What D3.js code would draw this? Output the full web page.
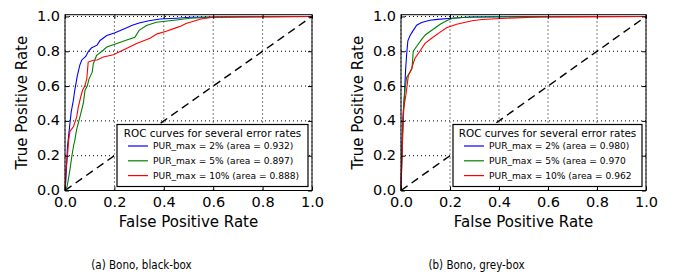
<!DOCTYPE html>
<html>
<head>
<meta charset="utf-8">
<script src="https://cdn.jsdelivr.net/npm/d3@7"></script>
<style>
  body { margin: 0; background: #fff; }
  svg { display: block; font-family: "DejaVu Sans", sans-serif; }
  .grid line { stroke: #000; stroke-width: 1; stroke-dasharray: 1,3; }
  .axis path { display: none; }
  .axis line { stroke: #000; }
  .axis text { font-size: 14.5px; fill: #000; font-family: "DejaVu Sans", sans-serif; }
</style>
</head>
<body>
<div id="chart"></div>
<script>
// ROC points: [false positive rate, true positive rate]
const seriesNames = ['PUR_max = 2%', 'PUR_max = 5%', 'PUR_max = 10%'];
const seriesColors = ['#0000ff', '#008000', '#ff0000'];
const ticks = [0.0, 0.2, 0.4, 0.6, 0.8, 1.0];

const blackBox = {
  caption: '(a) Bono, black-box',
  areas: ['(area = 0.932)', '(area = 0.897)', '(area = 0.888)'],
  blue: [[0,0],[0.003,0.05],[0.01,0.25],[0.018,0.36],[0.025,0.45],[0.034,0.52],[0.04,0.58],[0.05,0.66],
    [0.06,0.72],[0.068,0.75],[0.084,0.77],[0.095,0.80],[0.108,0.82],[0.13,0.835],[0.142,0.862],
    [0.169,0.89],[0.2,0.905],[0.25,0.935],[0.27,0.948],[0.30,0.962],[0.34,0.975],[0.385,0.985],
    [0.45,0.99],[0.506,0.995],[0.6,0.997],[0.8,0.999],[1,1]],
  green: [[0,0],[0.008,0.02],[0.013,0.06],[0.02,0.12],[0.027,0.19],[0.035,0.26],[0.04,0.29],[0.047,0.35],
    [0.06,0.42],[0.074,0.50],[0.081,0.576],[0.09,0.60],[0.097,0.64],[0.11,0.68],[0.115,0.73],
    [0.128,0.776],[0.15,0.80],[0.169,0.824],[0.21,0.845],[0.25,0.865],[0.283,0.88],[0.30,0.92],
    [0.33,0.948],[0.37,0.967],[0.45,0.98],[0.506,0.99],[0.6,0.996],[0.8,0.999],[1,1]],
  red: [[0,0],[0.004,0.12],[0.01,0.2],[0.015,0.29],[0.02,0.34],[0.034,0.366],[0.047,0.42],[0.054,0.48],
    [0.064,0.54],[0.071,0.576],[0.08,0.60],[0.088,0.64],[0.094,0.738],[0.115,0.748],[0.13,0.75],
    [0.155,0.767],[0.196,0.78],[0.24,0.81],[0.29,0.845],[0.344,0.875],[0.373,0.90],[0.41,0.915],
    [0.44,0.93],[0.47,0.945],[0.49,0.96],[0.55,0.985],[0.6,0.995],[0.7,0.998],[1,1]]
};

const greyBox = {
  caption: '(b) Bono, grey-box',
  areas: ['(area = 0.980)', '(area = 0.970', '(area = 0.962'],
  blue: [[0,0],[0.003,0.19],[0.008,0.42],[0.014,0.55],[0.019,0.70],[0.023,0.78],[0.028,0.86],
    [0.037,0.89],[0.05,0.92],[0.064,0.95],[0.084,0.965],[0.118,0.978],[0.15,0.983],[0.205,0.99],
    [0.29,0.997],[0.5,0.999],[1,1]],
  green: [[0,0],[0.004,0.2],[0.01,0.46],[0.016,0.58],[0.023,0.65],[0.037,0.68],[0.045,0.70],
    [0.05,0.80],[0.065,0.83],[0.085,0.87],[0.10,0.895],[0.13,0.925],[0.16,0.955],[0.186,0.975],
    [0.21,0.99],[0.26,0.995],[0.4,0.998],[1,1]],
  red: [[0,0],[0.004,0.2],[0.008,0.38],[0.012,0.48],[0.02,0.55],[0.03,0.66],[0.043,0.70],
    [0.057,0.76],[0.077,0.80],[0.098,0.845],[0.125,0.875],[0.16,0.91],[0.186,0.935],[0.227,0.955],
    [0.29,0.975],[0.33,0.982],[0.43,0.99],[0.566,0.997],[0.8,0.999],[1,1]]
};

const panels = [
  { data: blackBox, left: 65, right: 312, legendX: 117, legendW: 191 },
  { data: greyBox, left: 401, right: 646, legendX: 453, legendW: 189 }
];

const W = 679, H = 276;
const plotTop = 14.7, plotBottom = 190.5;

const svg = d3.select('#chart').append('svg')
  .attr('width', W)
  .attr('height', H);

panels.forEach((p) => {
  const g = svg.append('g');
  const x = d3.scaleLinear().domain([0, 1]).range([p.left, p.right]);
  const y = d3.scaleLinear().domain([0, 1.01]).range([plotBottom, plotTop]);

  // dotted grid
  const grid = g.append('g').attr('class', 'grid');
  grid.selectAll('.gx').data(ticks).enter().append('line')
    .attr('x1', (d) => x(d)).attr('x2', (d) => x(d))
    .attr('y1', plotBottom).attr('y2', plotTop);
  grid.selectAll('.gy').data(ticks).enter().append('line')
    .attr('x1', p.left).attr('x2', p.right)
    .attr('y1', (d) => y(d)).attr('y2', (d) => y(d));

  // chance line
  g.append('line')
    .attr('x1', x(0)).attr('y1', y(0))
    .attr('x2', x(1)).attr('y2', y(1))
    .attr('stroke', '#000')
    .attr('stroke-width', 1.4)
    .attr('stroke-dasharray', '8,5');

  const line = d3.line()
    .x((d) => x(d[0]))
    .y((d) => y(d[1]));

  const curves = [p.data.blue, p.data.green, p.data.red];
  curves.forEach((c, i) => {
    g.append('path')
      .datum(c)
      .attr('fill', 'none')
      .attr('stroke', seriesColors[i])
      .attr('stroke-width', 1.1)
      .attr('d', line);
  });

  // axes, ticks pointing inward
  g.append('g')
    .attr('class', 'axis')
    .attr('transform', 'translate(0,' + plotBottom + ')')
    .call(d3.axisBottom(x).tickValues(ticks).tickFormat(d3.format('.1f')).tickSize(-4).tickPadding(6));
  g.append('g')
    .attr('class', 'axis')
    .attr('transform', 'translate(' + p.left + ',0)')
    .call(d3.axisLeft(y).tickValues(ticks).tickFormat(d3.format('.1f')).tickSize(-4).tickPadding(5))
    .selectAll('text').attr('dy', '0.28em');
  g.append('g')
    .attr('class', 'axis')
    .attr('transform', 'translate(0,' + plotTop + ')')
    .call(d3.axisTop(x).tickValues(ticks).tickFormat('').tickSize(-4));
  g.append('g')
    .attr('class', 'axis')
    .attr('transform', 'translate(' + p.right + ',0)')
    .call(d3.axisRight(y).tickValues(ticks).tickFormat('').tickSize(-4));

  g.append('rect')
    .attr('x', p.left).attr('y', plotTop)
    .attr('width', p.right - p.left).attr('height', plotBottom - plotTop)
    .attr('fill', 'none')
    .attr('stroke', '#000')
    .attr('stroke-width', 1);

  // axis titles
  g.append('text')
    .attr('x', (p.left + p.right) / 2)
    .attr('y', 227)
    .attr('text-anchor', 'middle')
    .style('font-size', '15px')
    .text('False Positive Rate');
  g.append('text')
    .attr('transform', 'translate(' + (p.left - 38) + ',' + ((plotTop + plotBottom) / 2) + ') rotate(-90)')
    .attr('text-anchor', 'middle')
    .style('font-size', '15px')
    .text('True Positive Rate');

  // legend
  const lg = g.append('g').attr('transform', 'translate(' + p.legendX + ',124.5)');
  lg.append('rect')
    .attr('width', p.legendW).attr('height', 62)
    .attr('fill', '#fff')
    .attr('stroke', '#000')
    .attr('stroke-width', 1.2);
  lg.append('text')
    .attr('x', p.legendW / 2).attr('y', 12)
    .attr('text-anchor', 'middle')
    .style('font-size', '10.4px')
    .text('ROC curves for several error rates');
  seriesNames.forEach((name, i) => {
    const ly = 21.5 + i * 14.8;
    lg.append('line')
      .attr('x1', 11).attr('x2', 31)
      .attr('y1', ly).attr('y2', ly)
      .attr('stroke', seriesColors[i])
      .attr('stroke-width', 1.2);
    lg.append('text')
      .attr('x', 36).attr('y', ly + 3.3)
      .style('font-size', '9.1px')
      .text(name + ' ' + p.data.areas[i]);
  });

  // sub-caption
  svg.append('text')
    .attr('x', (p.left + p.right) / 2 - 47)
    .attr('y', 269)
    .attr('text-anchor', 'middle')
    .style('font-family', '"DejaVu Sans Condensed", "DejaVu Sans", sans-serif')
    .style('font-size', '11.5px')
    .text(p.data.caption);
});
</script>
</body>
</html>
